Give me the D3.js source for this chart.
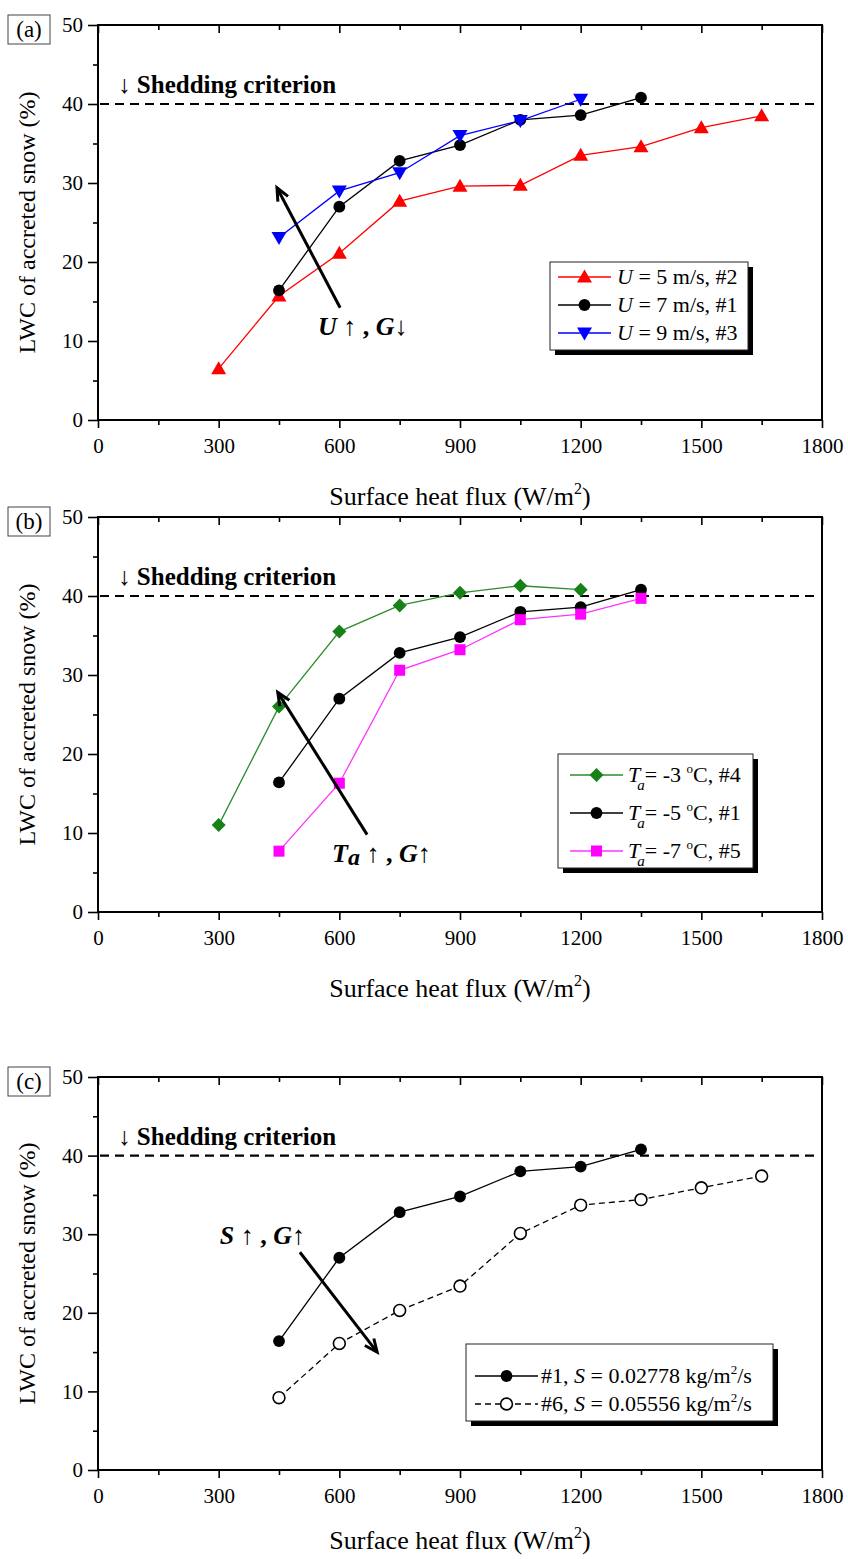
<!DOCTYPE html>
<html>
<head>
<meta charset="utf-8">
<script src="https://cdn.jsdelivr.net/npm/d3@7"></script>
<style>
  body { margin: 0; background: #fff; }
  svg { display: block; font-family: "Liberation Serif", "Times New Roman", serif; }
</style>
</head>
<body>
<svg width="848" height="1559"></svg>
<script>
var svg = d3.select('svg');

// heat flux values (W/m2)
var fluxA = [300, 450, 600, 750, 900, 1050, 1200, 1350, 1500, 1650];
var flux1 = [450, 600, 750, 900, 1050, 1200, 1350];
var fluxU9 = [450, 600, 750, 900, 1050, 1200];
var fluxT3 = [300, 450, 600, 750, 900, 1050, 1200];
var flux6 = [450, 600, 750, 900, 1050, 1200, 1350, 1500, 1650];

// LWC of accreted snow (%)
var lwcU5 = [6.5, 15.7, 21.1, 27.7, 29.6, 29.7, 33.5, 34.6, 37.0, 38.5];
var lwc1 = [16.4, 27.0, 32.8, 34.8, 38.0, 38.6, 40.8];
var lwcU9 = [23.1, 29.0, 31.3, 36.0, 37.9, 40.6];
var lwcT3 = [11.0, 26.0, 35.5, 38.8, 40.4, 41.3, 40.8];
var lwcT7 = [7.7, 16.3, 30.6, 33.2, 37.0, 37.7, 39.7];
var lwc6 = [9.2, 16.1, 20.3, 23.4, 30.1, 33.7, 34.4, 35.9, 37.4];

var xMajor = [0, 300, 600, 900, 1200, 1500, 1800];
var xMinor = [150, 450, 750, 1050, 1350, 1650];
var yMajor = [0, 10, 20, 30, 40, 50];
var yMinor = [5, 15, 25, 35, 45];
var shedding = 40;

var left = 98, right = 822;

function zip(xs, ys) {
    return xs.map(function(x, i) { return {x: x, y: ys[i]}; });
}

// marker shapes drawn around (0,0)
function markerPath(shape) {
    if (shape == 'up') return 'M0,-7.5L7.5,5.5L-7.5,5.5Z';
    if (shape == 'down') return 'M0,7.5L7.5,-5.5L-7.5,-5.5Z';
    if (shape == 'square') return 'M-5.5,-5.5H5.5V5.5H-5.5Z';
    if (shape == 'diamond') return 'M0,-7L7,0L0,7L-7,0Z';
    return d3.symbol(d3.symbolCircle, 110)();
}

var panels = [
    {
        label: '(a)', top: 25, bottom: 420, titleGap: 85,
        series: [
            {data: zip(fluxA, lwcU5), color: '#ff0000', fill: '#ff0000', shape: 'up'},
            {data: zip(flux1, lwc1), color: '#000', fill: '#000', shape: 'circle'},
            {data: zip(fluxU9, lwcU9), color: '#0000ff', fill: '#0000ff', shape: 'down'}
        ],
        legend: {box: [550, 262, 748, 350], lineX: [558, 611], textX: 617,
                 rows: [277, 305, 333],
                 texts: [['U', ' = 5 m/s, #2'], ['U', ' = 7 m/s, #1'], ['U', ' = 9 m/s, #3']]},
        arrow: {from: [602, 14.2], to: [445, 29.4]},
        note: {x: 547, y: 10.8, parts: [['U', 'i'], [' \u2191 , ', 'n'], ['G', 'i'], ['\u2193', 'n']]}
    },
    {
        label: '(b)', top: 517, bottom: 912, titleGap: 85,
        series: [
            {data: zip(fluxT3, lwcT3), color: '#2e8b2e', fill: '#178017', shape: 'diamond'},
            {data: zip(flux1, lwc1), color: '#000', fill: '#000', shape: 'circle'},
            {data: zip(flux1, lwcT7), color: '#ff33ff', fill: '#ff00ff', shape: 'square'}
        ],
        legend: {box: [558, 754, 753, 868], lineX: [570, 623], textX: 628,
                 rows: [775, 813, 851],
                 temps: ['-3', '-5', '-7'], ids: ['#4', '#1', '#5']},
        arrow: {from: [669, 9.8], to: [447, 27.8]},
        note: {x: 582, y: 6.3, parts: [['T', 'i'], ['a', 'sub'], [' \u2191 , ', 'n'], ['G', 'i'], ['\u2191', 'n']]}
    },
    {
        label: '(c)', top: 1077, bottom: 1470, titleGap: 79,
        series: [
            {data: zip(flux1, lwc1), color: '#000', fill: '#000', shape: 'circle'},
            {data: zip(flux6, lwc6), color: '#000', fill: '#fff', shape: 'circle', dash: '6,4'}
        ],
        legend: {box: [466, 1344, 773, 1421], lineX: [475, 538], textX: 541,
                 rows: [1376, 1404],
                 ids: ['#1', '#6'], rates: ['0.02778', '0.05556']},
        arrow: {from: [502, 27.7], to: [694, 15.0]},
        note: {x: 303, y: 28.7, parts: [['S', 'i'], [' \u2191 , ', 'n'], ['G', 'i'], ['\u2191', 'n']]}
    }
];

panels.forEach(function(p) {
    var xScale = d3.scaleLinear().domain([0, 1800]).range([left, right]);
    var yScale = d3.scaleLinear().domain([0, 50]).range([p.bottom, p.top]);
    var g = svg.append('g');

    // axes
    var bottomAxis = g.append('g')
        .attr('transform', 'translate(0,' + p.bottom + ')')
        .call(d3.axisBottom(xScale).tickValues(xMajor).tickSize(8).tickPadding(6).tickFormat(d3.format('d')));
    g.append('g')
        .attr('transform', 'translate(0,' + p.bottom + ')')
        .call(d3.axisBottom(xScale).tickValues(xMinor).tickSize(5).tickFormat(''));
    g.append('g')
        .attr('transform', 'translate(0,' + p.top + ')')
        .call(d3.axisTop(xScale).tickValues(xMajor).tickSize(-8).tickFormat(''));
    g.append('g')
        .attr('transform', 'translate(0,' + p.top + ')')
        .call(d3.axisTop(xScale).tickValues(xMinor).tickSize(-5).tickFormat(''));
    g.append('g')
        .attr('transform', 'translate(' + left + ',0)')
        .call(d3.axisLeft(yScale).tickValues(yMajor).tickSize(10).tickPadding(5));
    g.append('g')
        .attr('transform', 'translate(' + left + ',0)')
        .call(d3.axisLeft(yScale).tickValues(yMinor).tickSize(5).tickFormat(''));

    g.selectAll('.domain').remove();
    g.selectAll('.tick line').attr('stroke', '#000').attr('stroke-width', 1.6);
    g.selectAll('.tick text')
        .attr('font-family', '"Liberation Serif", serif')
        .attr('font-size', 21)
        .attr('fill', '#000');
    bottomAxis.selectAll('.tick text').attr('dy', '0.9em');

    // frame
    g.append('rect')
        .attr('x', left).attr('y', p.top)
        .attr('width', right - left).attr('height', p.bottom - p.top)
        .attr('fill', 'none').attr('stroke', '#000').attr('stroke-width', 2);

    // shedding criterion
    g.append('line')
        .attr('x1', xScale(0) + 2).attr('x2', xScale(1800) - 6)
        .attr('y1', yScale(shedding)).attr('y2', yScale(shedding))
        .attr('stroke', '#000').attr('stroke-width', 2.2)
        .attr('stroke-dasharray', '9,6');
    g.append('text')
        .attr('x', xScale(50)).attr('y', yScale(41.4))
        .attr('font-size', 25).attr('font-weight', 'bold')
        .text('\u2193 Shedding criterion');

    // panel label
    g.append('rect')
        .attr('x', 8).attr('y', p.top - 10).attr('width', 42).attr('height', 29)
        .attr('fill', 'none').attr('stroke', '#444').attr('stroke-width', 1);
    g.append('text')
        .attr('x', 29).attr('y', p.top + 12).attr('text-anchor', 'middle')
        .attr('font-size', 23).text(p.label);

    // axis titles
    var xt = g.append('text')
        .attr('x', 460).attr('y', p.bottom + p.titleGap).attr('text-anchor', 'middle')
        .attr('font-size', 26);
    xt.append('tspan').text('Surface heat flux (W/m');
    xt.append('tspan').attr('font-size', 16).attr('dy', -11).text('2');
    xt.append('tspan').attr('dy', 11).text(')');

    g.append('text')
        .attr('transform', 'translate(35,' + ((p.top + p.bottom) / 2) + ')rotate(-90)')
        .attr('text-anchor', 'middle').attr('font-size', 24)
        .text('LWC of accreted snow (%)');

    // series
    var line = d3.line().x(function(d) { return xScale(d.x); }).y(function(d) { return yScale(d.y); });
    p.series.forEach(function(s) {
        g.append('path')
            .attr('d', line(s.data))
            .attr('fill', 'none').attr('stroke', s.color).attr('stroke-width', 1.3)
            .attr('stroke-dasharray', s.dash || null);
        g.selectAll(null)
            .data(s.data)
            .enter()
            .append('path')
            .attr('d', markerPath(s.shape))
            .attr('transform', function(d) { return 'translate(' + xScale(d.x) + ',' + yScale(d.y) + ')'; })
            .attr('fill', s.fill)
            .attr('stroke', s.fill == '#fff' ? '#000' : 'none')
            .attr('stroke-width', 1.6);
    });

    // annotation arrow
    var x1 = xScale(p.arrow.from[0]), y1 = yScale(p.arrow.from[1]);
    var x2 = xScale(p.arrow.to[0]), y2 = yScale(p.arrow.to[1]);
    var ang = Math.atan2(y2 - y1, x2 - x1), hl = 14, ha = 0.42;
    g.append('line')
        .attr('x1', x1).attr('y1', y1).attr('x2', x2).attr('y2', y2)
        .attr('stroke', '#000').attr('stroke-width', 3);
    g.append('path')
        .attr('d', 'M' + (x2 - hl * Math.cos(ang - ha)) + ',' + (y2 - hl * Math.sin(ang - ha)) +
                   'L' + x2 + ',' + y2 +
                   'L' + (x2 - hl * Math.cos(ang + ha)) + ',' + (y2 - hl * Math.sin(ang + ha)))
        .attr('fill', 'none').attr('stroke', '#000').attr('stroke-width', 3)
        .attr('stroke-linejoin', 'miter');

    var note = g.append('text')
        .attr('x', xScale(p.note.x)).attr('y', yScale(p.note.y))
        .attr('font-size', 26).attr('font-weight', 'bold');
    var hasSub = p.note.parts.some(function(q) { return q[1] == 'sub'; });
    p.note.parts.forEach(function(part) {
        var t = note.append('tspan').text(part[0]);
        if (part[1] == 'i') t.attr('font-style', 'italic');
        if (part[1] == 'sub') t.attr('font-style', 'italic').attr('dy', 3).attr('font-size', 24);
        if (part[1] == 'n' && hasSub && part[0].indexOf(',') >= 0) t.attr('dy', -3);
    });

    // legend
    var L = p.legend;
    g.append('rect')
        .attr('x', L.box[0] + 5).attr('y', L.box[1] + 5)
        .attr('width', L.box[2] - L.box[0]).attr('height', L.box[3] - L.box[1])
        .attr('fill', '#000');
    g.append('rect')
        .attr('x', L.box[0]).attr('y', L.box[1])
        .attr('width', L.box[2] - L.box[0]).attr('height', L.box[3] - L.box[1])
        .attr('fill', '#fff').attr('stroke', '#222').attr('stroke-width', 1);

    p.series.forEach(function(s, i) {
        var ry = L.rows[i];
        g.append('line')
            .attr('x1', L.lineX[0]).attr('x2', L.lineX[1]).attr('y1', ry).attr('y2', ry)
            .attr('stroke', s.color).attr('stroke-width', 1.3)
            .attr('stroke-dasharray', s.dash || null);
        g.append('path')
            .attr('d', markerPath(s.shape))
            .attr('transform', 'translate(' + ((L.lineX[0] + L.lineX[1]) / 2) + ',' + ry + ')')
            .attr('fill', s.fill)
            .attr('stroke', s.fill == '#fff' ? '#000' : 'none')
            .attr('stroke-width', 1.6);

        var t = g.append('text').attr('x', L.textX).attr('y', ry + 7).attr('font-size', 22);
        if (L.texts) {
            t.append('tspan').attr('font-style', 'italic').text(L.texts[i][0]);
            t.append('tspan').text(L.texts[i][1]);
        } else if (L.temps) {
            t.append('tspan').attr('font-style', 'italic').text('T');
            t.append('tspan').attr('font-style', 'italic').attr('font-size', 15).attr('dy', 8).attr('dx', -3).text('a');
            t.append('tspan').attr('dy', -8).text('= ' + L.temps[i] + ' ');
            t.append('tspan').attr('font-size', 13).attr('dy', -9).text('o');
            t.append('tspan').attr('dy', 9).text('C, ' + L.ids[i]);
        } else {
            t.append('tspan').text(L.ids[i] + ', ');
            t.append('tspan').attr('font-style', 'italic').text('S');
            t.append('tspan').text(' = ' + L.rates[i] + ' kg/m');
            t.append('tspan').attr('font-size', 13).attr('dy', -9).text('2');
            t.append('tspan').attr('dy', 9).text('/s');
        }
    });
});
</script>
</body>
</html>
